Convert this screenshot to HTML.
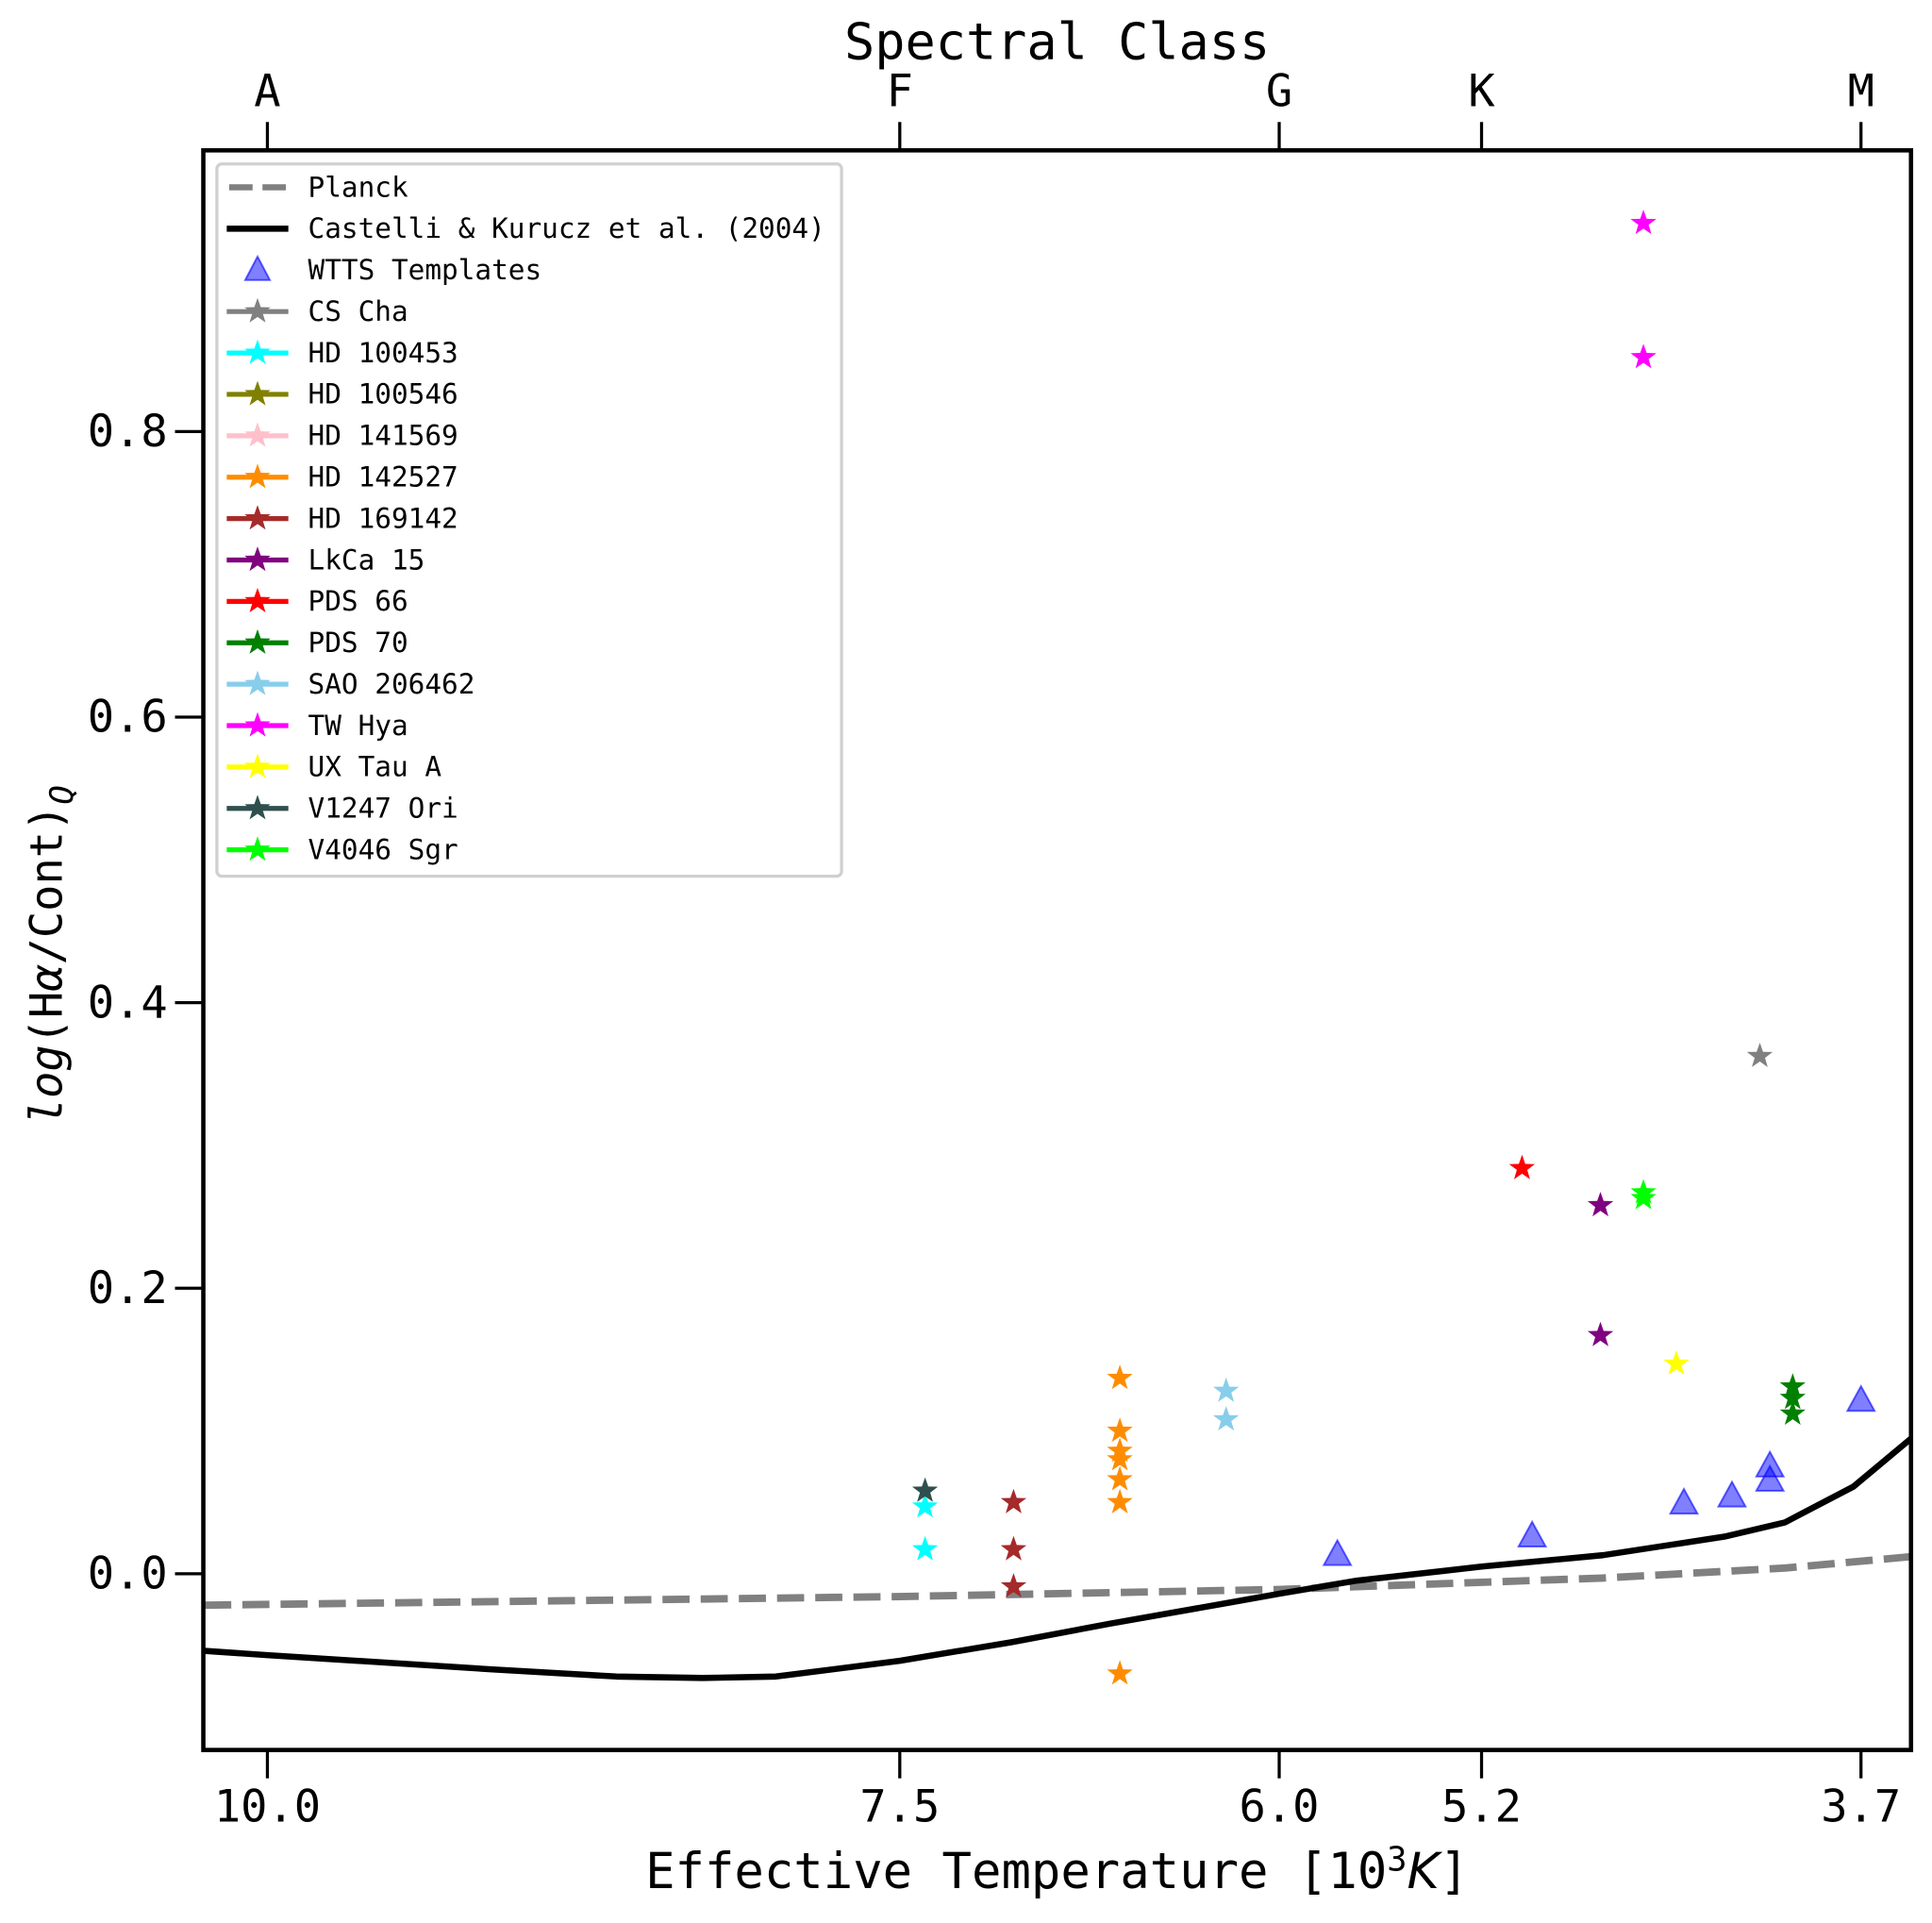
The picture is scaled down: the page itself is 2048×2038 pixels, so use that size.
<!DOCTYPE html>
<html><head><meta charset="utf-8"><style>
html,body{margin:0;padding:0;background:#fff}
svg{display:block}
text{font-family:"DejaVu Sans Mono","Liberation Mono",monospace;fill:#000}
</style></head><body>
<svg id="chart" width="2048" height="2038" viewBox="0 0 1568 1560.4" xmlns="http://www.w3.org/2000/svg">
<g id="plot"></g>
</svg>
<script>
const xTicks=[10.0,7.5,6.0,5.2,3.7];
const xTickLabels=["10.0","7.5","6.0","5.2","3.7"];
const classLabels=["A","F","G","K","M"];
const yTicks=[0.0,0.2,0.4,0.6,0.8];
const yTickLabels=["0.0","0.2","0.4","0.6","0.8"];
const planckT=[10.25,7.5,6.0,4.72,4.0,3.5];
const planckY=[-0.022,-0.016,-0.011,-0.003,0.004,0.012];
const ckT=[10.25,10,9.11,8.62,8.28,7.99,7.5,7.06,6.67,6.19,6.0,5.7,5.2,4.72,4.24,4.0,3.73,3.5];
const ckY=[-0.054,-0.057,-0.067,-0.072,-0.073,-0.072,-0.061,-0.048,-0.035,-0.020,-0.014,-0.005,0.005,0.013,0.026,0.036,0.061,0.095];
const wttsT=[5.77,5.00,4.40,4.21,4.06,4.06,3.70];
const wttsY=[0.013,0.026,0.049,0.054,0.075,0.065,0.121];
const starNames=["CS Cha","HD 100453","HD 100546","HD 141569","HD 142527","HD 169142","LkCa 15","PDS 66","PDS 70","SAO 206462","TW Hya","UX Tau A","V1247 Ori","V4046 Sgr"];
const starColors=["#808080","#00ffff","#808000","#ffc0cb","#ff8c00","#a52a2a","#800080","#ff0000","#008000","#87ceeb","#ff00ff","#ffff00","#2f4f4f","#00ff00"];
const starT=[[4.10],[7.40,7.40],[],[],[6.63,6.63,6.63,6.63,6.63,6.63,6.63],[7.05,7.05,7.05],[4.73,4.73],[5.04],[3.97,3.97,3.97],[6.21,6.21],[4.56,4.56],[4.43],[7.40],[4.56,4.56]];
const starY=[[0.3625],[0.047,0.017],[],[],[0.137,0.100,0.086,0.080,0.066,0.050,-0.070],[0.050,0.017,-0.009],[0.258,0.167],[0.284],[0.131,0.123,0.112],[0.128,0.108],[0.946,0.852],[0.147],[0.058],[0.267,0.263]];

const L=165,R=1551,T=122,B=1420;
const X=t=>217+(10-t)*205.3;
const Y=v=>1277-v*1158.5;
const NS="http://www.w3.org/2000/svg";
const g=document.getElementById('plot');
function mk(tag,attrs,parent){const e=document.createElementNS(NS,tag);for(const k in attrs)e.setAttribute(k,attrs[k]);(parent||g).appendChild(e);return e;}
function starPts(cx,cy,r){let p=[];for(let i=0;i<10;i++){const a=-Math.PI/2+i*Math.PI/5;const rr=i%2?r*0.4:r;p.push((cx+rr*Math.cos(a)).toFixed(1)+","+(cy+rr*Math.sin(a)).toFixed(1));}return p.join(" ");}

const defs=mk('defs',{});const cp=mk('clipPath',{id:'clip'},defs);mk('rect',{x:L,y:T,width:R-L,height:B-T},cp);
const inner=mk('g',{'clip-path':'url(#clip)'});
let e;
e=mk('polyline',{points:planckT.map((t,i)=>X(t)+","+Y(planckY[i])).join(" "),fill:'none',stroke:'#808080','stroke-width':6,'stroke-dasharray':'22,9'},inner);


e=mk('polyline',{points:ckT.map((t,i)=>X(t)+","+Y(ckY[i])).join(" "),fill:'none',stroke:'#000','stroke-width':5,'stroke-linejoin':'round'},inner);


wttsT.forEach((t,i)=>{const cx=X(t),cy=Y(wttsY[i]);
 e=mk('polygon',{points:`${cx},${cy-12} ${cx+11},${cy+8} ${cx-11},${cy+8}`,fill:'rgba(0,0,255,0.5)',stroke:'rgba(0,0,255,0.6)','stroke-width':1.5},inner);
 
 });
starNames.forEach((n,s)=>{starT[s].forEach((t,i)=>{
 e=mk('polygon',{points:starPts(X(t),Y(starY[s][i]),11),fill:starColors[s]},inner);
 
 });});

e=mk('rect',{x:L,y:T,width:R-L,height:B-T,fill:'none',stroke:'#000','stroke-width':3.5});


xTicks.forEach((t,i)=>{const x=X(t);
 mk('line',{x1:x,y1:B,x2:x,y2:B+23,stroke:'#000','stroke-width':2.5});
 mk('line',{x1:x,y1:T,x2:x,y2:T-23,stroke:'#000','stroke-width':2.5});
 e=mk('text',{x:x,y:1478,'text-anchor':'middle','font-size':36});e.textContent=xTickLabels[i];
 
 
 e=mk('text',{x:x,y:86,'text-anchor':'middle','font-size':36});e.textContent=classLabels[i];
 
 });
yTicks.forEach((v,i)=>{const y=Y(v);
 mk('line',{x1:L,y1:y,x2:L-23,y2:y,stroke:'#000','stroke-width':2.5});
 e=mk('text',{x:136,y:y+12,'text-anchor':'end','font-size':36});e.textContent=yTickLabels[i];
 
 });
e=mk('text',{x:858,y:1532,'text-anchor':'middle','font-size':40});
e.innerHTML='Effective Temperature [10<tspan dy="-14" font-size="27">3</tspan><tspan dy="14" font-family="DejaVu Sans" font-style="italic">K</tspan>]';


e=mk('text',{x:858,y:48,'text-anchor':'middle','font-size':41});e.textContent='Spectral Class';


e=mk('text',{x:0,y:0,'text-anchor':'middle','font-size':36,transform:'translate(50,775) rotate(-90)','font-family':'DejaVu Sans'});
e.innerHTML='<tspan font-style="italic">log</tspan>(H<tspan font-style="italic">α</tspan>/Cont)<tspan dy="9" font-size="26" font-style="italic">Q</tspan>';



const lg=mk('g',{});


mk('rect',{x:176,y:133,width:507,height:578,rx:4,fill:'#fff',stroke:'#d0d0d0','stroke-width':2.5},lg);
const entries=[["Planck","dash"],["Castelli & Kurucz et al. (2004)","solid"],["WTTS Templates","tri"]].concat(starNames.map((n,i)=>[n,"star",starColors[i]]));
entries.forEach((en,i)=>{const y=152+i*33.6;
 const eg=mk('g',{},lg);
 
 
 if(en[1]=="dash")mk('line',{x1:186,y1:y,x2:233,y2:y,stroke:'#808080','stroke-width':5,'stroke-dasharray':'19,8'},eg);
 else if(en[1]=="solid")mk('line',{x1:184,y1:y,x2:234,y2:y,stroke:'#000','stroke-width':5},eg);
 else if(en[1]=="tri")mk('polygon',{points:`209,${y-11} 219,${y+8} 199,${y+8}`,fill:'rgba(0,0,255,0.5)',stroke:'rgba(0,0,255,0.6)','stroke-width':1.5},eg);
 else{mk('line',{x1:184,y1:y,x2:234,y2:y,stroke:en[2],'stroke-width':4},eg);mk('polygon',{points:starPts(209,y,11),fill:en[2]},eg);}
 const tx=mk('text',{x:250,y:y+7.5,'font-size':22.5},eg);tx.textContent=en[0];});
</script>
</body></html>
